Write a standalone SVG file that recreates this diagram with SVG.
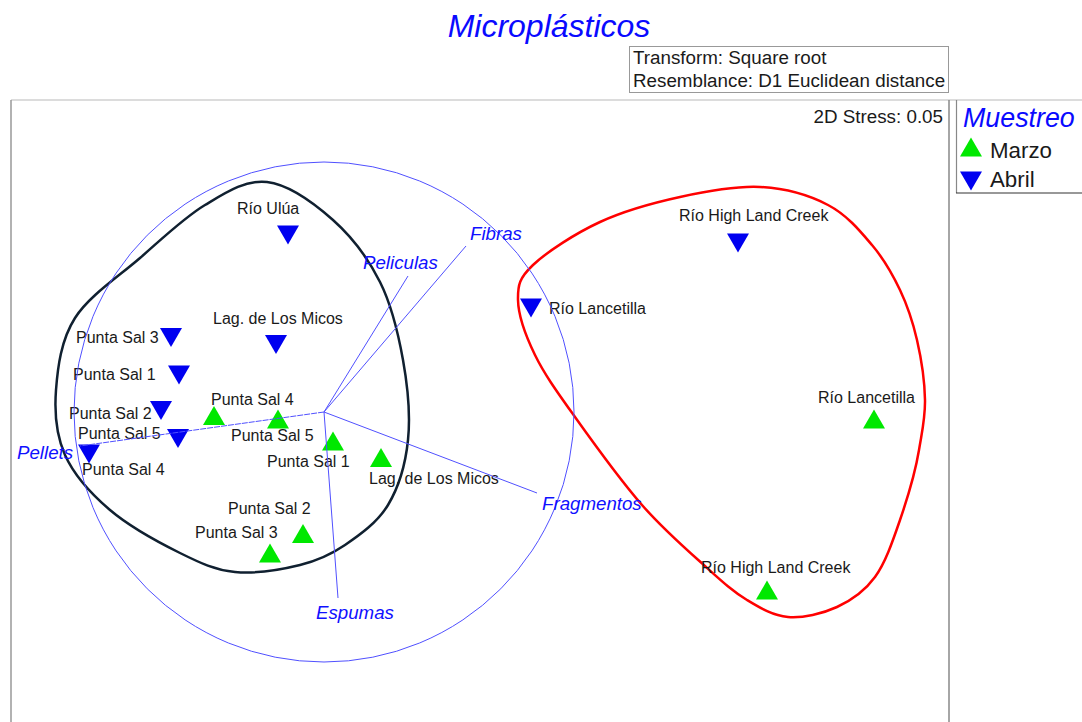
<svg xmlns="http://www.w3.org/2000/svg" xmlns:xlink="http://www.w3.org/1999/xlink" width="1082" height="722" viewBox="0 0 1082 722">
<style>
text{font-family:"Liberation Sans",Arial,sans-serif;}
.lbl{font-size:16px;fill:#1a1a1a;}
.vec{font-size:18.7px;font-style:italic;fill:#1010ff;}
.vline{stroke:#5050ff;stroke-width:1;fill:none;}
.up{fill:#00e800;}
.dn{fill:#0000f0;}
</style>
<defs>
<path id="tu" d="M-11,9.5 L11,9.5 L0,-9.5 Z"/>
<path id="td" d="M-11,-9.5 L11,-9.5 L0,9.5 Z"/>
</defs>
<rect width="1082" height="722" fill="#fff"/>
<g id="frame">
<line x1="11" y1="100" x2="1082" y2="100" stroke="#dcdcdc" stroke-width="2"/>
<line x1="11" y1="100" x2="11" y2="722" stroke="#999" stroke-width="1.5"/>
<line x1="949" y1="100" x2="949" y2="722" stroke="#888" stroke-width="1.5"/>
</g>
<g id="title">
<text x="549" y="37" text-anchor="middle" style="font-size:32px;font-style:italic;fill:#0a0aff">Microplásticos</text>
</g>
<g id="info">
<rect x="629.5" y="46.5" width="319" height="46" fill="none" stroke="#999" stroke-width="1"/>
<text x="633" y="64" style="font-size:18.8px;fill:#1a1a1a">Transform: Square root</text>
<text x="633" y="87" style="font-size:18.8px;fill:#1a1a1a">Resemblance: D1 Euclidean distance</text>
</g>
<g id="stress">
<text x="943" y="123" text-anchor="end" style="font-size:18.8px;fill:#1a1a1a">2D Stress: 0.05</text>
</g>
<g id="legend">
<line x1="956.5" y1="100" x2="956.5" y2="193" stroke="#888" stroke-width="1.2"/>
<line x1="956" y1="193" x2="1082" y2="193" stroke="#333" stroke-width="1.2"/>
<text x="963" y="127" style="font-size:26.8px;font-style:italic;fill:#0a0aff">Muestreo</text>
<use href="#tu" xlink:href="#tu" class="up" x="971" y="147"/>
<text x="990" y="158" style="font-size:22.3px;fill:#1a1a1a">Marzo</text>
<use href="#td" xlink:href="#td" class="dn" x="971" y="181"/>
<text x="990" y="187" style="font-size:22.3px;fill:#1a1a1a">Abril</text>
</g>
<g id="cluster-black">
<path fill="none" stroke="#102030" stroke-width="2.5" d="M267,182 C288.3,184.5 314.2,203.3 333,220 C351.8,236.7 368.3,258.7 380,282 C391.7,305.3 398.3,333.7 403,360 C407.7,386.3 410.5,415.8 408,440 C405.5,464.2 398.5,487.5 388,505 C377.5,522.5 359.7,535 345,545 C330.3,555 318.3,560.5 300,565 C281.7,569.5 255,574 235,572 C215,570 200.8,563.3 180,553 C159.2,542.7 129.2,526.3 110,510 C90.8,493.7 74,475 65,455 C56,435 54.3,412.8 56,390 C57.7,367.2 61,340 75,318 C89,296 118.3,276.8 140,258 C161.7,239.2 183.8,217.7 205,205 C226.2,192.3 245.7,179.5 267,182 Z"/>
</g>
<g id="cluster-red">
<path fill="none" stroke="#ff0000" stroke-width="2.5" d="M760,187 C784.7,188.3 809.3,195.3 828,205 C846.7,214.7 860,230.8 872,245 C884,259.2 892.5,274.2 900,290 C907.5,305.8 912.8,321.7 917,340 C921.2,358.3 924.7,381.7 925,400 C925.3,418.3 922.3,430 919,450 C915.7,470 907.3,498.8 900,520 C892.7,541.2 885.5,562.5 875,577 C864.5,591.5 851.5,600.3 837,607 C822.5,613.7 803,618.2 788,617 C773,615.8 760.7,608.3 747,600 C733.3,591.7 723.5,582.8 706,567 C688.5,551.2 663.8,530 642,505 C620.2,480 592.8,442 575,417 C557.2,392 544.5,374.5 535,355 C525.5,335.5 518.3,315 518,300 C517.7,285 519.3,278 533,265 C546.7,252 575.5,233.3 600,222 C624.5,210.7 653.3,202.8 680,197 C706.7,191.2 735.3,185.7 760,187 Z"/>
</g>
<g id="abril-rio-ulua"><use href="#td" xlink:href="#td" class="dn" x="288" y="235"/><text class="lbl" x="237" y="214">Río Ulúa</text></g>
<g id="abril-rio-hlc"><use href="#td" xlink:href="#td" class="dn" x="738" y="243"/><text class="lbl" x="679" y="221">Río High Land Creek</text></g>
<g id="abril-rio-lancetilla"><use href="#td" xlink:href="#td" class="dn" x="531" y="308"/><text class="lbl" x="549" y="314">Río Lancetilla</text></g>
<g id="abril-lag"><use href="#td" xlink:href="#td" class="dn" x="276" y="344.5"/><text class="lbl" x="213" y="324">Lag. de Los Micos</text></g>
<g id="abril-ps3"><use href="#td" xlink:href="#td" class="dn" x="171" y="337.5"/><text class="lbl" x="76" y="343">Punta Sal 3</text></g>
<g id="abril-ps1"><use href="#td" xlink:href="#td" class="dn" x="179" y="375"/><text class="lbl" x="73" y="380">Punta Sal 1</text></g>
<g id="abril-ps2"><use href="#td" xlink:href="#td" class="dn" x="161" y="410.5"/><text class="lbl" x="69" y="419">Punta Sal 2</text></g>
<g id="abril-ps5"><use href="#td" xlink:href="#td" class="dn" x="178" y="438.5"/><text class="lbl" x="78" y="439">Punta Sal 5</text></g>
<g id="abril-ps4"><use href="#td" xlink:href="#td" class="dn" x="89" y="454"/><text class="lbl" x="82" y="475">Punta Sal 4</text></g>
<g id="marzo-ps4"><use href="#tu" xlink:href="#tu" class="up" x="214" y="415.5"/><text class="lbl" x="211" y="405">Punta Sal 4</text></g>
<g id="marzo-ps5"><use href="#tu" xlink:href="#tu" class="up" x="278" y="419"/><text class="lbl" x="231" y="441">Punta Sal 5</text></g>
<g id="marzo-ps1"><use href="#tu" xlink:href="#tu" class="up" x="333" y="441"/><text class="lbl" x="267" y="467">Punta Sal 1</text></g>
<g id="marzo-lag"><use href="#tu" xlink:href="#tu" class="up" x="381" y="457.5"/><text class="lbl" x="369" y="484">Lag. de Los Micos</text></g>
<g id="marzo-ps2"><use href="#tu" xlink:href="#tu" class="up" x="303" y="533.5"/><text class="lbl" x="228" y="514">Punta Sal 2</text></g>
<g id="marzo-ps3"><use href="#tu" xlink:href="#tu" class="up" x="270" y="553"/><text class="lbl" x="195" y="538">Punta Sal 3</text></g>
<g id="marzo-rio-lancetilla"><use href="#tu" xlink:href="#tu" class="up" x="874" y="419"/><text class="lbl" x="818" y="403">Río Lancetilla</text></g>
<g id="marzo-rio-hlc"><use href="#tu" xlink:href="#tu" class="up" x="767" y="590"/><text class="lbl" x="701" y="573">Río High Land Creek</text></g>
<g id="connectors">
<circle cx="324" cy="412" r="250" class="vline" stroke="#6a6aff"/>
<line x1="324" y1="412" x2="80" y2="446" class="vline" stroke-dasharray="6,1"/>
<line x1="324" y1="412" x2="338" y2="598" class="vline"/>
<line x1="324" y1="412" x2="537" y2="493" class="vline"/>
<line x1="324" y1="412" x2="466" y2="246" class="vline"/>
<line x1="324" y1="412" x2="408" y2="276" class="vline"/>
</g>
<g id="vector-labels">
<text class="vec" x="17" y="459">Pellets</text>
<text class="vec" x="316" y="619">Espumas</text>
<text class="vec" x="542" y="510">Fragmentos</text>
<text class="vec" x="470" y="240">Fibras</text>
<text class="vec" x="363" y="269">Peliculas</text>
</g>
</svg>
